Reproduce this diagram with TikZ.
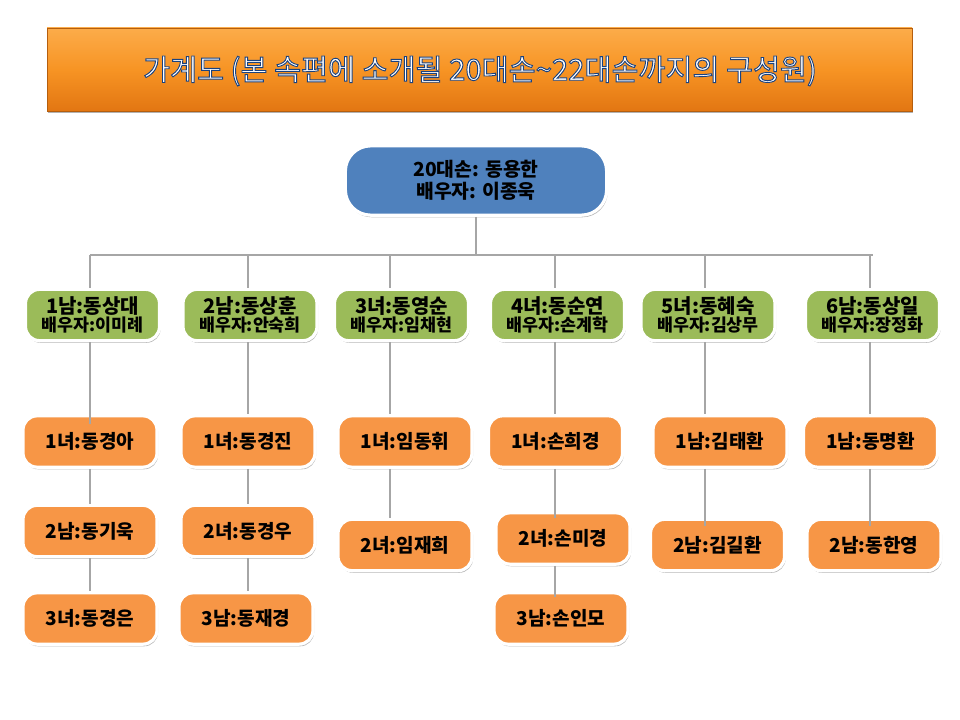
\documentclass[tikz,border=0pt]{standalone}
\usepackage{fontspec}
\setmainfont{Noto Sans CJK KR}
\usetikzlibrary{shadows}
\definecolor{boxorange}{RGB}{247,150,70}
\definecolor{boxgreen}{RGB}{155,187,89}
\definecolor{boxblue}{RGB}{79,129,189}
\definecolor{linegray}{RGB}{166,166,166}
\definecolor{bartop}{RGB}{252,172,74}
\definecolor{barmid}{RGB}{247,148,36}
\definecolor{barbot}{RGB}{226,118,18}
\newcommand{\outlined}[1]{\special{pdf:literal direct 2 Tr 0.7 w 0.10 0.26 0.50 RG}#1\special{pdf:literal direct 0 Tr}}
\newcommand{\gtwo}[2]{{\fontsize{15pt}{15.5pt}\selectfont #1}\\{\fontsize{13pt}{15.5pt}\selectfont #2}}
\begin{document}
\begin{tikzpicture}[x=0.75pt,y=-0.75pt,
  base/.style={draw=white, line width=2.4pt, rounded corners=10.5pt, text=black,
    align=center, inner sep=0pt,
    drop shadow={shadow xshift=0.8pt, shadow yshift=-1.6pt, opacity=0.28, fill=black}},
  obox/.style={base, fill=boxorange, minimum width=100.5pt, minimum height=38.5pt,
    font=\fontsize{14.3pt}{16pt}\selectfont\bfseries},
  gbox/.style={base, fill=boxgreen, minimum width=100.5pt, minimum height=38.5pt,
    font=\bfseries},
  rbox/.style={base, fill=boxblue, minimum width=196pt, minimum height=52pt,
    rounded corners=19pt, font=\fontsize{14.5pt}{16.5pt}\selectfont\bfseries},
  conn/.style={draw=linegray, line width=1.5pt},
  titlefont/.style={font=\fontsize{22pt}{26pt}\selectfont, inner sep=0pt}
]
\useasboundingbox (0,0) rectangle (960,720);
\fill[white] (0,0) rectangle (960,720);

% title bar
\path[draw=barbot!80!black, line width=0.6pt,
  top color=bartop, bottom color=barbot, middle color=barmid,
  drop shadow={shadow xshift=0.6pt, shadow yshift=-1.8pt, opacity=0.3, fill=black}]
  (47,28) rectangle (912,111);
\node[titlefont, text=white] (title) at (480,71)
  {\outlined{가계도 (본 속편에 소개될 20대손\textasciitilde 22대손까지의 구성원)}};

% root
\node[rbox] (root) at (476,180.5) {20대손: 동용한\\배우자: 이종욱};

% children (generation 21)
\node[gbox] (g1) at (92.5,315) {\gtwo{1남:동상대}{배우자:이미례}};
\node[gbox] (g2) at (250,315) {\gtwo{2남:동상훈}{배우자:안숙희}};
\node[gbox] (g3) at (401.5,315) {\gtwo{3녀:동영순}{배우자:임채현}};
\node[gbox] (g4) at (557.5,315) {\gtwo{4녀:동순연}{배우자:손계학}};
\node[gbox] (g5) at (708,315) {\gtwo{5녀:동혜숙}{배우자:김상무}};
\node[gbox] (g6) at (872.5,315) {\gtwo{6남:동상일}{배우자:장정화}};

% grandchildren (generation 22)
\node[obox] (c1a) at (90,441.5) {1녀:동경아};
\node[obox] (c1b) at (90,531) {2남:동기욱};
\node[obox] (c1c) at (90,618.5) {3녀:동경은};
\node[obox] (c2a) at (248,441.5) {1녀:동경진};
\node[obox] (c2b) at (248,531) {2녀:동경우};
\node[obox] (c2c) at (246,618.5) {3남:동재경};
\node[obox] (c3a) at (405,441.5) {1녀:임동휘};
\node[obox] (c3b) at (405,545) {2녀:임재희};
\node[obox] (c4a) at (555.5,441.5) {1녀:손희경};
\node[obox] (c4b) at (563,538.5) {2녀:손미경};
\node[obox] (c4c) at (561,618.5) {3남:손인모};
\node[obox] (c5a) at (720,441.5) {1남:김태환};
\node[obox] (c5b) at (717.5,545) {2남:김길환};
\node[obox] (c6a) at (870.5,441.5) {1남:동명환};
\node[obox] (c6b) at (874,545) {2남:동한영};

% bus coordinates
\coordinate (l1) at (90,255);
\coordinate (l2) at (248,255);
\coordinate (l3) at (390,255);
\coordinate (l4) at (555,255);
\coordinate (l5) at (705,255);
\coordinate (l6) at (870,255);
\coordinate (lend) at (873,255);

% connectors
\draw[conn] (root.south) -- (root.south |- l1);
\draw[conn] (l1) -- (lend);
\foreach \i in {1,...,6}
  \draw[conn] (l\i) -- (l\i |- g\i.north);

\draw[conn, shorten >=-7pt] (l1 |- g1.south) -- (l1 |- c1a.north);
\draw[conn] (l1 |- c1a.south) -- (l1 |- c1b.north);
\draw[conn] (l1 |- c1b.south) -- (l1 |- c1c.north);

\draw[conn] (l2 |- g2.south) -- (l2 |- c2a.north);
\draw[conn] (l2 |- c2a.south) -- (l2 |- c2b.north);
\draw[conn] (l2 |- c2b.south) -- (l2 |- c2c.north);

\draw[conn] (l3 |- g3.south) -- (l3 |- c3a.north);
\draw[conn] (l3 |- c3a.south) -- (l3 |- c3b.north);

\draw[conn] (l4 |- g4.south) -- (l4 |- c4a.north);
\draw[conn, shorten >=-5pt] (l4 |- c4a.south) -- (l4 |- c4b.north);
\draw[conn, shorten >=-4pt] (l4 |- c4b.south) -- (l4 |- c4c.north);

\draw[conn] (l5 |- g5.south) -- (l5 |- c5a.north);
\draw[conn, shorten >=-6pt] (l5 |- c5a.south) -- (l5 |- c5b.north);

\draw[conn] (l6 |- g6.south) -- (l6 |- c6a.north);
\draw[conn, shorten >=-6pt] (l6 |- c6a.south) -- (l6 |- c6b.north);
\end{tikzpicture}
\end{document}
